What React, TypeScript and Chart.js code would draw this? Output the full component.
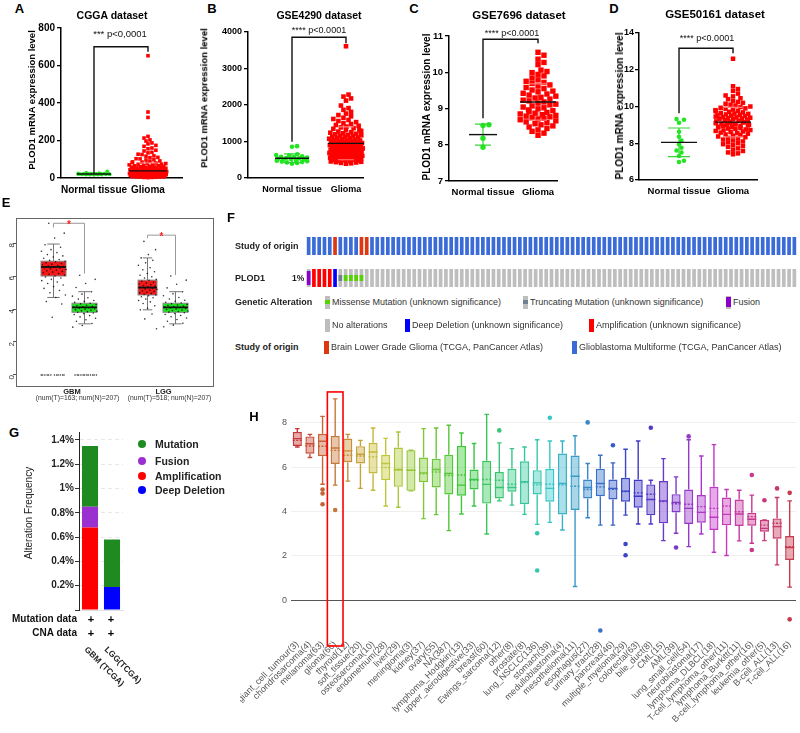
import React, { useEffect, useRef } from 'react';
import { Chart, registerables } from 'chart.js';

Chart.register(...registerables);

const FONT = '"Liberation Sans", Arial, Helvetica, sans-serif';
const GREEN = '#22e622';
const RED = '#ff0000';

// ================= Panels A–D : scatter dot plots =================
const groupNames = ['Normal tissue', 'Glioma'];

const cggaTicks = [0, 200, 400, 600, 800];
const cggaNormal = [17, 19, 22, 20, 24, 18, 21, 23, 26, 19, 20, 16, 22, 25, 21, 18, 23, 20, 36, 29, 19, 22, 17, 24, 21];
const cggaGlioma = [652, 352, 323, 222, 213, 203, 197, 187, 182, 174, 169, 160, 156, 148, 144, 137, 134, 127, 125, 118, 116, 110, 109, 103, 102, 97, 96, 91, 90, 86, 85, 82, 80, 78, 77, 74, 73, 71, 70, 67, 66, 65, 63, 62, 61, 59, 58, 57, 56, 54, 54, 52, 51, 50, 49, 47, 47, 45, 45, 44, 43, 41, 41, 40, 39, 38, 37, 37, 36, 35, 34, 34, 33, 32, 31, 31, 30, 29, 29, 28, 27, 27, 26, 25, 25, 24, 24, 23, 22, 22, 21, 21, 20, 19, 19, 18, 18, 17, 17, 16, 15, 15, 14, 14, 13, 12, 12, 11, 11, 10, 9, 9, 8, 8, 7, 6, 6, 5, 5, 4, 3, 3, 2, 30, 26, 22, 18, 35, 42, 15, 12, 28, 33, 20, 9, 24];
const cggaMean = [21, 38];
const cggaSD = [4, 42];
const cggaBracket = [700, 25, 674];

const gse4290Ticks = [0, 1000, 2000, 3000, 4000];
const gse4290Normal = [872, 858, 651, 632, 618, 596, 583, 571, 560, 549, 538, 526, 517, 505, 494, 482, 471, 462, 450, 441, 428, 411, 389];
const gse4290Glioma = [3610, 2285, 2230, 2180, 2120, 1985, 1915, 1868, 1812, 1764, 1725, 1690, 1652, 1618, 1590, 1562, 1531, 1504, 1478, 1452, 1431, 1409, 1388, 1366, 1347, 1325, 1308, 1290, 1272, 1255, 1240, 1226, 1211, 1197, 1183, 1170, 1158, 1146, 1133, 1121, 1110, 1098, 1087, 1076, 1066, 1055, 1046, 1036, 1027, 1018, 1009, 1000, 991, 983, 975, 967, 959, 951, 943, 935, 928, 920, 913, 905, 898, 891, 884, 877, 870, 863, 856, 849, 843, 836, 829, 823, 816, 810, 804, 797, 791, 785, 779, 773, 767, 761, 755, 749, 743, 737, 731, 726, 720, 714, 708, 702, 697, 691, 685, 679, 674, 668, 662, 657, 651, 645, 639, 633, 627, 621, 615, 609, 602, 596, 590, 583, 576, 570, 563, 556, 549, 542, 535, 527, 520, 512, 504, 496, 488, 480, 471, 462, 453, 444, 434, 424, 413, 402, 391];
const gse4290Mean = [540, 950];
const gse4290SD = [120, 450];
const gse4290Bracket = [3855, 995, 3690];

const gse7696Ticks = [7, 8, 9, 10, 11];
const gse7696Normal = [8.55, 8.53, 8.18, 7.93];
const gse7696Glioma = [10.55, 10.47, 10.36, 10.27, 10.21, 10.06, 10.02, 9.99, 9.94, 9.9, 9.84, 9.79, 9.75, 9.72, 9.69, 9.65, 9.62, 9.58, 9.55, 9.51, 9.48, 9.46, 9.42, 9.4, 9.37, 9.34, 9.31, 9.29, 9.26, 9.23, 9.21, 9.18, 9.15, 9.12, 9.1, 9.07, 9.04, 9.02, 8.99, 8.96, 8.94, 8.91, 8.89, 8.87, 8.85, 8.83, 8.81, 8.79, 8.77, 8.75, 8.73, 8.71, 8.69, 8.66, 8.63, 8.61, 8.58, 8.55, 8.52, 8.49, 8.45, 8.41, 8.37, 8.32, 8.26];
const gse7696Mean = [8.28, 9.18];
const gse7696SD = [0.29, 0.5];
const gse7696Bracket = [10.91, 8.73, 10.8];

const gse50161Ticks = [6, 8, 10, 12, 14];
const gse50161Normal = [9.32, 9.28, 9.12, 8.62, 8.35, 8.15, 7.95, 7.75, 7.6, 7.5, 7.3, 7.05, 6.98];
const gse50161Glioma = [12.6, 11.1, 10.95, 10.85, 10.7, 10.6, 10.55, 10.45, 10.4, 10.3, 10.25, 10.2, 10.15, 10.1, 10.05, 10.0, 9.97, 9.93, 9.9, 9.87, 9.84, 9.8, 9.77, 9.74, 9.71, 9.68, 9.65, 9.62, 9.6, 9.57, 9.55, 9.52, 9.5, 9.48, 9.45, 9.43, 9.41, 9.39, 9.37, 9.35, 9.33, 9.31, 9.29, 9.27, 9.25, 9.23, 9.21, 9.19, 9.17, 9.15, 9.13, 9.11, 9.09, 9.07, 9.05, 9.03, 9.01, 8.99, 8.97, 8.95, 8.93, 8.9, 8.88, 8.86, 8.83, 8.8, 8.78, 8.75, 8.72, 8.7, 8.67, 8.64, 8.61, 8.58, 8.55, 8.52, 8.48, 8.45, 8.41, 8.37, 8.33, 8.29, 8.25, 8.2, 8.15, 8.1, 8.05, 8.0, 7.95, 7.9, 7.85, 7.8, 7.72, 7.65, 7.58, 7.5, 7.45, 7.4];
const gse50161Mean = [8.05, 9.15];
const gse50161SD = [0.78, 0.8];
const gse50161Bracket = [13.17, 9.63, 12.9];

// ================= Panel E : GEPIA box plots =================
const gepiaGbmTumor = [9.2, 8.6, 8.3, 7.9, 7.75, 7.6, 7.5, 7.42, 7.3, 7.22, 7.15, 7.08, 7.0, 6.95, 6.9, 6.86, 6.8, 6.76, 6.72, 6.68, 6.64, 6.6, 6.57, 6.54, 6.5, 6.47, 6.44, 6.4, 6.36, 6.32, 6.28, 6.24, 6.2, 6.15, 6.1, 6.05, 6.0, 5.94, 5.88, 5.8, 5.72, 5.64, 5.55, 5.46, 5.36, 5.25, 5.12, 4.98, 4.85, 4.7, 4.45, 4.3, 3.5, 0, 0, 0, 0, 0, 0, 0, 0, 0, 0, 0, 0];
const gepiaGbmNormal = [6.05, 5.8, 5.55, 5.3, 5.05, 4.9, 4.78, 4.68, 4.6, 4.52, 4.46, 4.4, 4.35, 4.31, 4.27, 4.23, 4.2, 4.17, 4.14, 4.11, 4.08, 4.05, 4.02, 3.99, 3.96, 3.93, 3.9, 3.87, 3.84, 3.8, 3.76, 3.72, 3.66, 3.6, 3.52, 3.44, 3.35, 3.25, 3.12, 3.0, 2.9, 0, 0, 0, 0, 0, 0, 0, 0, 0, 0, 0, 0];
const gepiaLggTumor = [8.1, 7.6, 7.3, 7.1, 6.95, 6.8, 6.65, 6.5, 6.38, 6.26, 6.15, 6.05, 5.96, 5.88, 5.8, 5.74, 5.68, 5.62, 5.57, 5.52, 5.47, 5.42, 5.38, 5.34, 5.3, 5.26, 5.22, 5.18, 5.14, 5.1, 5.06, 5.02, 4.98, 4.94, 4.9, 4.85, 4.8, 4.74, 4.68, 4.6, 4.52, 4.43, 4.33, 4.2, 4.05, 3.95, 3.7, 3.4, 2.8];
const gepiaLggNormal = [6.0, 5.75, 5.5, 5.28, 5.05, 4.92, 4.8, 4.7, 4.61, 4.53, 4.47, 4.41, 4.36, 4.32, 4.28, 4.24, 4.21, 4.18, 4.15, 4.12, 4.09, 4.06, 4.03, 4.0, 3.97, 3.94, 3.91, 3.88, 3.85, 3.81, 3.77, 3.73, 3.67, 3.61, 3.53, 3.45, 3.36, 3.26, 3.14, 3.02, 2.92];
const gepiaLow = [4.7, 3.1, 3.95, 3.1];
const gepiaQ1 = [6.0, 3.8, 4.85, 3.8];
const gepiaMedian = [6.55, 4.1, 5.3, 4.1];
const gepiaQ3 = [6.9, 4.35, 5.75, 4.35];
const gepiaHigh = [7.94, 5.05, 7.1, 5.05];
const gepiaTicks = [0, 2, 4, 6, 8];
const gepiaBracketTop = [9.2, 8.48];
const gepiaBracketLeftEnd = [8.95, 8.3];
const gepiaBracketRightEnd = [6.15, 6.06];

// ================= Panel F : oncoprint =================
const studyOfOrigin = 'GGGGGLGGGGLLGGGGGGGGGGGGGGGGGGGGGGGGGGGGGGGGGGGGGGGGGGGGGGGGGGGGGGGGGGGGGGGGGGGGGGGGGGGGGGGGG';
const plod1Alterations = 'FAAAADTMMMM';

// ================= Panel G : alteration frequency =================
const gCategories = ['GBM (TCGA)', 'LGG(TCGA)'];
const gDeepDeletion = [0, 0.19];
const gAmplification = [0.68, 0];
const gFusion = [0.17, 0];
const gMutation = [0.5, 0.39];
const gTicks = [0, 0.2, 0.4, 0.6, 0.8, 1.0, 1.2, 1.4];

// ================= Panel H : cell-line box plots =================
const hLabels = ['giant_cell_tumour(3)', 'chondrosarcoma(4)', 'melanoma(63)', 'glioma(66)', 'thyroid(12)', 'soft_tissue(20)', 'osteosarcoma(10)', 'endometrium(28)', 'liver(29)', 'meningioma(3)', 'kidney(37)', 'ovary(55)', 'NA(387)', 'lymphoma_Hodgkin(13)', 'upper_aerodigestive(33)', 'breast(60)', 'Ewings_sarcoma(12)', 'other(8)', 'prostate(8)', 'lung_NSCLC(136)', 'stomach(39)', 'medulloblastoma(4)', 'mesothelioma(11)', 'esophagus(27)', 'urinary_tract(28)', 'pancreas(46)', 'multiple_myeloma(29)', 'colorectal(63)', 'bile_duct(8)', 'CML(15)', 'AML(39)', 'lung_small_cell(54)', 'neuroblastoma(17)', 'lymphoma_DLBCL(18)', 'T-cell_lymphoma_other(11)', 'lymphoma_Burkitt(11)', 'B-cell_lymphoma_other(16)', 'leukemia_other(5)', 'B-cell_ALL(13)', 'T-cell_ALL(16)'];
const hLow = [6.9, 6.43, 5.23, 5.19, 5.37, 5.04, 4.96, 4.25, 4.19, 4.93, 3.68, 3.86, 3.14, 3.89, 4.25, 2.99, 4.48, 4.29, 3.87, 3.42, 3.51, 3.17, 0.63, 3.72, 3.39, 3.39, 3.84, 3.44, 3.44, 2.69, 3.02, 2.42, 2.99, 2.17, 2.02, 2.68, 2.57, 2.69, 1.6, 0.6];
const hQ1 = [6.95, 6.6, 6.49, 6.14, 6.22, 6.16, 5.71, 5.41, 5.11, 4.93, 5.32, 5.08, 4.77, 4.71, 4.99, 4.36, 4.59, 4.89, 4.33, 4.77, 4.44, 3.87, 4.07, 4.59, 4.69, 4.54, 4.44, 4.17, 3.83, 3.47, 3.96, 3.44, 3.5, 3.17, 3.38, 3.35, 3.36, 3.09, 2.78, 1.82];
const hMedian = [7.28, 7.05, 7.16, 6.86, 6.73, 6.58, 6.68, 6.16, 5.89, 5.86, 5.74, 5.89, 5.71, 5.19, 5.44, 5.22, 5.08, 5.08, 5.34, 5.29, 5.04, 5.26, 5.59, 5.08, 5.26, 5.04, 4.92, 4.69, 4.54, 4.48, 4.41, 4.14, 3.96, 3.74, 3.87, 3.89, 3.65, 3.24, 3.32, 2.38];
const hQ3 = [7.58, 7.38, 7.5, 7.4, 7.28, 6.94, 7.09, 6.55, 6.88, 6.76, 6.43, 6.38, 6.56, 6.95, 5.89, 6.28, 5.78, 5.93, 6.26, 5.86, 5.92, 6.61, 6.52, 5.44, 5.93, 5.44, 5.52, 5.44, 5.22, 5.37, 4.78, 4.99, 4.74, 5.11, 4.63, 4.54, 3.95, 3.62, 3.69, 2.9];
const hHigh = [7.73, 7.47, 8.28, 9.07, 7.47, 7.2, 7.76, 7.29, 7.58, 6.76, 7.73, 7.76, 7.88, 7.53, 7.06, 8.37, 7.09, 6.83, 6.9, 7.23, 7.17, 7.17, 7.41, 6.16, 6.53, 6.19, 6.8, 7.17, 5.41, 6.38, 5.56, 7.23, 6.5, 7.01, 4.99, 4.96, 4.74, 3.62, 4.63, 4.48];
const hMean = [7.2, 6.95, 6.94, 6.75, 6.53, 6.5, 6.46, 5.98, 5.85, 5.85, 5.7, 5.78, 5.62, 5.64, 5.42, 5.44, 5.41, 5.23, 5.3, 5.2, 5.23, 5.2, 5.14, 4.99, 5.11, 5.0, 4.9, 4.84, 4.78, 4.45, 4.35, 4.33, 4.22, 4.14, 4.25, 3.99, 3.77, 3.39, 3.47, 2.42];
const hOutliers = [[], [], [4.99, 4.81, 4.33], [4.07], [], [], [], [], [], [], [], [], [], [], [], [], [7.65], [], [], [3.02, 1.35], [8.22], [], [], [8.01], [-1.35], [6.98], [2.54, 2.03], [], [7.77], [], [2.38], [7.38], [], [], [], [], [5.64, 2.27], [4.51], [5.04], [4.84, -0.85]];
const hTicks = [0, 2, 4, 6, 8];
const hHighlight = { label: 'glioma(66)', top: 9.38, bottom: -2.05 };

// ================= helpers =================
function swarmOffsets(values: number[], pxPerUnit: number, diam: number, maxHalf: number): number[] {
  const order = values.map((_, i) => i).sort((a, b) => values[a] - values[b]);
  const placed: { x: number; y: number }[] = [];
  const out = new Array(values.length).fill(0);
  const step = diam * 0.55;
  let fb = 0;
  for (const i of order) {
    const y = values[i] * pxPerUnit;
    const near = placed.filter((p) => Math.abs(p.y - y) < diam);
    let chosen: number | null = null;
    for (let k = 0; k * step <= maxHalf && chosen === null; k++) {
      const cands = k === 0 ? [0] : [k * step, -k * step];
      for (const c of cands) {
        if (near.every((p) => Math.hypot(p.x - c, p.y - y) >= diam * 0.95)) { chosen = c; break; }
      }
    }
    if (chosen === null) {
      fb += 1;
      chosen = (((fb * 0.6180339) % 1) * 2 - 1) * maxHalf;
    }
    placed.push({ x: chosen, y });
    out[i] = chosen;
  }
  return out;
}

function ChartBox({ left, top, width, height, make }: any) {
  const ref = useRef<HTMLCanvasElement>(null);
  useEffect(() => {
    const chart = new Chart(ref.current as HTMLCanvasElement, make());
    return () => chart.destroy();
  }, []);
  return (
    <div style={{ position: 'absolute', left, top, width, height }}>
      <canvas ref={ref} width={width} height={height} style={{ width, height, display: 'block' }} />
    </div>
  );
}

function T({ x, y, a = 'l', s = 10, b = false, c = '#000', r = 0, children }: any) {
  const tx = a === 'l' ? '0' : a === 'c' ? '-50%' : '-100%';
  return (
    <div style={{ position: 'absolute', left: x, top: y, transform: `translate(${tx},-50%)${r ? ` rotate(${r}deg)` : ''}`, font: `${b ? 'bold ' : ''}${s}px ${FONT}`, color: c, whiteSpace: 'nowrap', lineHeight: 1 }}>
      {children}
    </div>
  );
}

const baseOpts = { animation: false, responsive: false, events: [], plugins: { legend: { display: false }, tooltip: { enabled: false }, title: { display: false } } };

// ---------- dot panels ----------
const dotPanels = [
  { key: 'A', cv: { left: 0, top: 20, width: 195, height: 180 }, area: { l: 61, r: 182, t: 28, b: 178 }, xMin: 0.389, xMax: 2.63, ticks: cggaTicks, normal: cggaNormal, glioma: cggaGlioma, mean: cggaMean, sd: cggaSD, bracket: cggaBracket, diam: 3.6, maxHalf: [17, 19], meanHalf: [17, 19], sdHalf: [8, 9], tickFont: 10, labelFont: 10, tickPad: 2 },
  { key: 'B', cv: { left: 200, top: 20, width: 180, height: 180 }, area: { l: 248, r: 363, t: 32, b: 178 }, xMin: 0.185, xMax: 2.315, ticks: gse4290Ticks, normal: gse4290Normal, glioma: gse4290Glioma, mean: gse4290Mean, sd: gse4290SD, bracket: gse4290Bracket, diam: 4.6, maxHalf: [17, 17], meanHalf: [17, 18], sdHalf: [8, 8], tickFont: 9, labelFont: 9, tickPad: 2 },
  { key: 'C', cv: { left: 400, top: 20, width: 180, height: 185 }, area: { l: 449, r: 557, t: 36, b: 181 }, xMin: 0.382, xMax: 2.345, ticks: gse7696Ticks, normal: gse7696Normal, glioma: gse7696Glioma, mean: gse7696Mean, sd: gse7696SD, bracket: gse7696Bracket, diam: 5.4, maxHalf: [12, 18], meanHalf: [14, 18], sdHalf: [8, 9], tickFont: 9.5, labelFont: 9.5, tickPad: 2 },
  { key: 'D', cv: { left: 600, top: 20, width: 180, height: 185 }, area: { l: 639, r: 757, t: 33, b: 180 }, xMin: 0.259, xMax: 2.444, ticks: gse50161Ticks, normal: gse50161Normal, glioma: gse50161Glioma, mean: gse50161Mean, sd: gse50161SD, bracket: gse50161Bracket, diam: 4.5, maxHalf: [12, 18], meanHalf: [18, 18], sdHalf: [11, 9], tickFont: 9, labelFont: 9.5, tickPad: 1 },
];

function dotConfig(p: any) {
  const yW = 30, xH = 18;
  const yMin = p.ticks[0], yMax = p.ticks[p.ticks.length - 1];
  const pxPerY = (p.area.b - p.area.t) / (yMax - yMin);
  const xPerPx = (p.xMax - p.xMin) / (p.area.r - p.area.l);
  const pts = (vals: number[], g: number) => {
    const offs = swarmOffsets(vals, pxPerY, p.diam, p.maxHalf[g]);
    return vals.map((v, i) => ({ x: g + 1 + offs[i] * xPerPx, y: v }));
  };
  const extras = {
    id: 'dotExtras' + p.key,
    beforeDatasetsDraw(chart: any) {
      const { ctx, scales: { x, y } } = chart;
      ctx.save();
      [0, 1].forEach((g) => {
        const cx = x.getPixelForValue(g + 1);
        const t = y.getPixelForValue(p.mean[g] + p.sd[g]);
        const b = y.getPixelForValue(Math.max(yMin, p.mean[g] - p.sd[g]));
        ctx.strokeStyle = g === 0 ? 'rgba(40,210,40,0.95)' : 'rgba(255,110,110,0.95)';
        ctx.lineWidth = 1.2;
        ctx.beginPath();
        ctx.moveTo(cx, t); ctx.lineTo(cx, b);
        ctx.stroke();
      });
      ctx.restore();
    },
    afterDatasetsDraw(chart: any) {
      const { ctx, scales: { x, y } } = chart;
      ctx.save();
      [0, 1].forEach((g) => {
        const cx = x.getPixelForValue(g + 1);
        const t = y.getPixelForValue(p.mean[g] + p.sd[g]);
        const b = y.getPixelForValue(Math.max(yMin, p.mean[g] - p.sd[g]));
        ctx.strokeStyle = g === 0 ? 'rgba(40,210,40,0.95)' : 'rgba(255,130,130,0.95)';
        ctx.lineWidth = 1.2;
        ctx.beginPath();
        ctx.moveTo(cx - p.sdHalf[g], t); ctx.lineTo(cx + p.sdHalf[g], t);
        if (p.mean[g] - p.sd[g] > yMin) { ctx.moveTo(cx - p.sdHalf[g], b); ctx.lineTo(cx + p.sdHalf[g], b); }
        ctx.stroke();
        const m = y.getPixelForValue(p.mean[g]);
        ctx.strokeStyle = '#111';
        ctx.lineWidth = 1.4;
        ctx.beginPath();
        ctx.moveTo(cx - p.meanHalf[g], m); ctx.lineTo(cx + p.meanHalf[g], m);
        ctx.stroke();
      });
      const x1 = x.getPixelForValue(1), x2 = x.getPixelForValue(2);
      const [top, le, re] = p.bracket;
      ctx.strokeStyle = '#111';
      ctx.lineWidth = 1.4;
      ctx.beginPath();
      ctx.moveTo(x1, y.getPixelForValue(le));
      ctx.lineTo(x1, y.getPixelForValue(top));
      ctx.lineTo(x2, y.getPixelForValue(top));
      ctx.lineTo(x2, y.getPixelForValue(re));
      ctx.stroke();
      ctx.restore();
    },
  };
  return {
    type: 'scatter',
    data: {
      datasets: [
        { data: pts(p.normal, 0), pointStyle: 'circle', pointRadius: p.diam / 2, backgroundColor: GREEN, borderWidth: 0, clip: false },
        { data: pts(p.glioma, 1), pointStyle: 'rect', pointRadius: p.diam / 1.414, backgroundColor: RED, borderWidth: 0, clip: false },
      ],
    },
    options: {
      ...baseOpts,
      layout: { padding: { left: p.area.l - p.cv.left - yW, right: p.cv.left + p.cv.width - p.area.r, top: p.area.t - p.cv.top, bottom: p.cv.top + p.cv.height - p.area.b - xH } },
      scales: {
        x: {
          type: 'linear', min: p.xMin, max: p.xMax,
          afterBuildTicks: (s: any) => { s.ticks = [{ value: 1 }, { value: 2 }]; },
          afterFit: (s: any) => { s.height = xH; s.paddingLeft = 0; s.paddingRight = 0; },
          grid: { display: false, drawTicks: false },
          border: { display: true, color: '#000', width: 1.5 },
          ticks: { autoSkip: false, maxRotation: 0, padding: 6, color: '#000', font: { family: FONT, size: p.labelFont, weight: 'bold' }, callback: (v: number) => groupNames[Math.round(v) - 1] },
        },
        y: {
          type: 'linear', min: yMin, max: yMax,
          afterBuildTicks: (s: any) => { s.ticks = p.ticks.map((v: number) => ({ value: v })); },
          afterFit: (s: any) => { s.width = yW; s.paddingTop = 0; s.paddingBottom = 0; },
          grid: { drawOnChartArea: false, drawTicks: true, tickLength: 4, color: '#000', lineWidth: 1.3 },
          border: { display: true, color: '#000', width: 1.5 },
          ticks: { padding: p.tickPad, color: '#000', font: { family: FONT, size: p.tickFont, weight: 'bold' }, callback: (v: number) => String(v) },
        },
      },
    },
    plugins: [extras],
  };
}

// ---------- E ----------
const ePos = [1.904, 3.477, 6.675, 8.096];
const eWidth = [1.27, 1.27, 0.96, 1.27];
const eFill = ['#f01818', '#1ee01e', '#f01818', '#1ee01e'];

function gepiaConfig() {
  const groups = [gepiaGbmTumor, gepiaGbmNormal, gepiaLggTumor, gepiaLggNormal];
  const jit = (i: number) => ((i * 0.6180339 + 0.31) % 1) - 0.5;
  const plugin = {
    id: 'gepia',
    beforeDatasetsDraw(chart: any) {
      const { ctx, scales: { x, y } } = chart;
      ctx.save();
      for (let g = 0; g < 4; g++) {
        const cx = x.getPixelForValue(ePos[g]);
        const half = x.getPixelForValue(ePos[g] + eWidth[g] / 2) - cx;
        const q1 = y.getPixelForValue(gepiaQ1[g]), q3 = y.getPixelForValue(gepiaQ3[g]);
        const lo = y.getPixelForValue(gepiaLow[g]), hi = y.getPixelForValue(gepiaHigh[g]);
        ctx.strokeStyle = '#777';
        ctx.lineWidth = 1;
        ctx.beginPath();
        ctx.moveTo(cx, q3); ctx.lineTo(cx, hi);
        ctx.moveTo(cx, q1); ctx.lineTo(cx, lo);
        ctx.moveTo(cx - half * 0.5, hi); ctx.lineTo(cx + half * 0.5, hi);
        ctx.moveTo(cx - half * 0.5, lo); ctx.lineTo(cx + half * 0.5, lo);
        ctx.stroke();
        ctx.fillStyle = eFill[g];
        ctx.fillRect(cx - half, q3, half * 2, q1 - q3);
        ctx.strokeStyle = '#888';
        ctx.strokeRect(cx - half, q3, half * 2, q1 - q3);
      }
      ctx.restore();
    },
    afterDatasetsDraw(chart: any) {
      const { ctx, chartArea: a, scales: { x, y } } = chart;
      ctx.save();
      for (let g = 0; g < 4; g++) {
        const cx = x.getPixelForValue(ePos[g]);
        const half = x.getPixelForValue(ePos[g] + eWidth[g] / 2) - cx;
        const m = y.getPixelForValue(gepiaMedian[g]);
        ctx.strokeStyle = '#111';
        ctx.lineWidth = 1.8;
        ctx.beginPath(); ctx.moveTo(cx - half, m); ctx.lineTo(cx + half, m); ctx.stroke();
      }
      ctx.strokeStyle = '#666';
      ctx.lineWidth = 1;
      ctx.strokeRect(a.left + 0.5, a.top + 0.5, a.right - a.left, a.bottom - a.top);
      for (let k = 0; k < 2; k++) {
        const x1 = x.getPixelForValue(ePos[k * 2]), x2 = x.getPixelForValue(ePos[k * 2 + 1]);
        const t = y.getPixelForValue(gepiaBracketTop[k]);
        ctx.strokeStyle = '#999';
        ctx.lineWidth = 1;
        ctx.beginPath();
        ctx.moveTo(x1, y.getPixelForValue(gepiaBracketLeftEnd[k]));
        ctx.lineTo(x1, t); ctx.lineTo(x2, t);
        ctx.lineTo(x2, y.getPixelForValue(gepiaBracketRightEnd[k]));
        ctx.stroke();
        ctx.fillStyle = '#ff2020';
        ctx.font = `bold 10px ${FONT}`;
        ctx.textAlign = 'center';
        ctx.textBaseline = 'middle';
        ctx.fillText('*', (x1 + x2) / 2, t + 2);
      }
      ctx.restore();
    },
  };
  return {
    type: 'scatter',
    data: {
      datasets: groups.map((arr, g) => ({
        data: arr.map((v, i) => ({ x: ePos[g] + jit(i) * eWidth[g] * 1.0, y: v })),
        pointRadius: 0.8, backgroundColor: 'rgba(0,0,0,0.8)', borderWidth: 0, clip: false,
      })),
    },
    options: {
      ...baseOpts,
      layout: { padding: { left: 0, right: 12, top: 8, bottom: 4 } },
      scales: {
        x: { type: 'linear', min: 0, max: 10, display: false },
        y: {
          type: 'linear', min: -0.67, max: 9.52,
          afterBuildTicks: (s: any) => { s.ticks = gepiaTicks.map((v) => ({ value: v })); },
          afterFit: (s: any) => { s.width = 16; s.paddingTop = 0; s.paddingBottom = 0; },
          grid: { drawOnChartArea: false, drawTicks: true, tickLength: 3, color: '#555' },
          border: { display: false },
          ticks: { minRotation: 90, maxRotation: 90, padding: 1, color: '#333', font: { family: FONT, size: 8 } },
        },
      },
    },
    plugins: [plugin],
  };
}

// ---------- F ----------
const STUDY_COLORS: any = { G: '#3a6bd6', L: '#dc3912' };
function oncoConfig() {
  const cols = studyOfOrigin.split('').map((_, i) => String(i + 1));
  const alt = (i: number) => plod1Alterations[i] || '.';
  const common = { grouped: false, barPercentage: 0.7, categoryPercentage: 1, borderWidth: 0 };
  return {
    type: 'bar',
    data: {
      labels: cols,
      datasets: [
        { ...common, order: 2, data: cols.map(() => [32, 50]), backgroundColor: studyOfOrigin.split('').map((c) => STUDY_COLORS[c]) },
        { ...common, order: 2, data: cols.map(() => [0, 18]), backgroundColor: cols.map((_, i) => (alt(i) === 'A' ? '#ff0000' : alt(i) === 'D' ? '#0000ff' : '#bebebe')) },
        {
          ...common,
          order: 0,
          data: cols.map((_, i) => (alt(i) === 'M' || alt(i) === 'T' ? [6, 12] : alt(i) === 'F' ? [2, 16] : null)),
          backgroundColor: cols.map((_, i) => (alt(i) === 'M' ? '#53d400' : alt(i) === 'T' ? '#708090' : '#8b00c9')),
        },
      ],
    },
    options: {
      ...baseOpts,
      layout: { padding: { left: 0, right: 3, top: 2, bottom: 3 } },
      scales: { x: { display: false }, y: { display: false, min: 0, max: 50 } },
    },
  };
}

// ---------- G ----------
function freqConfig() {
  const common = { barPercentage: 0.73, categoryPercentage: 1, borderWidth: 0 };
  return {
    type: 'bar',
    data: {
      labels: gCategories,
      datasets: [
        { ...common, label: 'Deep Deletion', data: gDeepDeletion, backgroundColor: '#0000ff' },
        { ...common, label: 'Amplification', data: gAmplification, backgroundColor: '#ff0000' },
        { ...common, label: 'Fusion', data: gFusion, backgroundColor: '#9b30d0' },
        { ...common, label: 'Mutation', data: gMutation, backgroundColor: '#1f8a1f' },
      ],
    },
    options: {
      ...baseOpts,
      layout: { padding: { left: 0, right: 7, top: 7.7, bottom: 5 } },
      scales: {
        x: {
          stacked: true,
          ticks: { display: false },
          grid: { display: false, drawTicks: false },
          border: { display: true, color: '#e0e0e0' },
          afterFit: (s: any) => { s.height = 0; s.paddingLeft = 0; s.paddingRight = 0; },
        },
        y: {
          stacked: true, min: 0, max: 1.46,
          afterBuildTicks: (s: any) => { s.ticks = gTicks.map((v) => ({ value: v })); },
          afterFit: (s: any) => { s.width = 49; s.paddingTop = 0; s.paddingBottom = 0; },
          grid: { color: '#e8e8e8', tickColor: '#333', drawTicks: true, tickLength: 4 },
          border: { display: true, color: '#222', width: 1, dash: [4, 3] },
          ticks: { padding: 1, color: '#222', font: { family: FONT, size: 10, weight: 'bold' }, callback: (v: number) => (v === 0 ? '' : `${+v.toFixed(1)}%`) },
        },
      },
    },
  };
}

// ---------- H ----------
const hStroke = (i: number) => `hsl(${i * 9}, 55%, 50%)`;
const hFill = (i: number) => `hsla(${i * 9}, 60%, 58%, 0.5)`;

function cellLineConfig() {
  const outPts: any[] = [];
  const outCol: string[] = [];
  hOutliers.forEach((arr, i) => arr.forEach((v) => { outPts.push({ x: hLabels[i], y: v }); outCol.push(hStroke(i)); }));
  const plugin = {
    id: 'hboxes',
    afterDatasetsDraw(chart: any) {
      const { ctx, scales: { x, y } } = chart;
      const meta = chart.getDatasetMeta(0);
      ctx.save();
      meta.data.forEach((el: any, i: number) => {
        const cx = el.x, half = el.width / 2;
        const q1 = y.getPixelForValue(hQ1[i]), q3 = y.getPixelForValue(hQ3[i]);
        const lo = y.getPixelForValue(hLow[i]), hi = y.getPixelForValue(hHigh[i]);
        ctx.strokeStyle = hStroke(i);
        ctx.lineWidth = 1.4;
        ctx.setLineDash([]);
        ctx.beginPath();
        ctx.moveTo(cx, q3); ctx.lineTo(cx, hi);
        ctx.moveTo(cx, q1); ctx.lineTo(cx, lo);
        ctx.moveTo(cx - half / 2, hi); ctx.lineTo(cx + half / 2, hi);
        ctx.moveTo(cx - half / 2, lo); ctx.lineTo(cx + half / 2, lo);
        const md = y.getPixelForValue(hMedian[i]);
        ctx.moveTo(cx - half, md); ctx.lineTo(cx + half, md);
        ctx.stroke();
        ctx.setLineDash([2, 1.5]);
        ctx.beginPath();
        const mn = y.getPixelForValue(hMean[i]);
        ctx.moveTo(cx - half, mn); ctx.lineTo(cx + half, mn);
        ctx.stroke();
      });
      ctx.setLineDash([]);
      const gi = hLabels.indexOf(hHighlight.label);
      const el = meta.data[gi];
      const w = (x.getPixelForValue(1) - x.getPixelForValue(0)) * 0.62;
      const t = y.getPixelForValue(hHighlight.top), b = y.getPixelForValue(hHighlight.bottom);
      ctx.strokeStyle = '#ff0000';
      ctx.lineWidth = 1.6;
      ctx.strokeRect(el.x - w, t, w * 2, b - t);
      ctx.restore();
    },
  };
  return {
    type: 'bar',
    data: {
      labels: hLabels,
      datasets: [
        { type: 'bar', data: hLabels.map((_, i) => [hQ1[i], hQ3[i]]), backgroundColor: hLabels.map((_, i) => hFill(i)), borderColor: hLabels.map((_, i) => hStroke(i)), borderWidth: 1.4, borderSkipped: false, barPercentage: 0.72, categoryPercentage: 1, order: 2 },
        { type: 'line', showLine: false, data: outPts, pointRadius: 2.3, pointBackgroundColor: outCol, pointBorderWidth: 0, clip: false, order: 1 },
      ],
    },
    options: {
      ...baseOpts,
      layout: { padding: { left: 30, right: 3, top: 11.5, bottom: 0 } },
      scales: {
        x: {
          afterFit: (s: any) => { s.height = 97; s.paddingLeft = 0; s.paddingRight = 0; },
          grid: { display: false, drawTicks: false },
          border: { display: false },
          ticks: { autoSkip: false, minRotation: 45, maxRotation: 45, padding: 3, color: '#555', font: { family: FONT, size: 9 } },
        },
        y: {
          min: -1.6, max: 9.4,
          afterBuildTicks: (s: any) => { s.ticks = hTicks.map((v) => ({ value: v })); },
          afterFit: (s: any) => { s.width = 21; s.paddingTop = 0; s.paddingBottom = 0; },
          grid: { drawTicks: false, color: (c: any) => (c.tick && c.tick.value === 0 ? '#555' : '#efefef'), lineWidth: 1 },
          border: { display: false },
          ticks: { padding: 4, color: '#555', font: { family: FONT, size: 9 } },
        },
      },
    },
    plugins: [plugin],
  };
}

function Swatch({ x, y, base, inner, frac = 1 }: any) {
  return (
    <div style={{ position: 'absolute', left: x, top: y - 6.5, width: 5, height: 13, background: base }}>
      {inner ? <div style={{ position: 'absolute', left: 0, width: 5, top: (13 * (1 - frac)) / 2, height: 13 * frac, background: inner }} /> : null}
    </div>
  );
}

function Dot({ x, y, c }: any) {
  return <div style={{ position: 'absolute', left: x - 4, top: y - 4, width: 8, height: 8, borderRadius: '50%', background: c }} />;
}

export default function App() {
  return (
    <div style={{ position: 'absolute', left: 0, top: 0, width: 800, height: 733, background: '#fff', overflow: 'hidden' }}>
      {dotPanels.map((p) => (
        <ChartBox key={p.key} {...p.cv} make={() => dotConfig(p)} />
      ))}
      <ChartBox left={0} top={210} width={225} height={180} make={gepiaConfig} />
      <ChartBox left={306} top={235} width={494} height={55} make={oncoConfig} />
      <ChartBox left={30} top={425} width={100} height={190} make={freqConfig} />
      <ChartBox left={240} top={380} width={560} height={353} make={cellLineConfig} />

      {/* panel letters */}
      <T x={19.5} y={8} a="c" s={13} b>A</T>
      <T x={212} y={8} a="c" s={13} b>B</T>
      <T x={414} y={8} a="c" s={13} b>C</T>
      <T x={614} y={8} a="c" s={13} b>D</T>
      <T x={6} y={202} a="c" s={13} b>E</T>
      <T x={231} y={217} a="c" s={13} b>F</T>
      <T x={14} y={432} a="c" s={13} b>G</T>
      <T x={254} y={416} a="c" s={13} b>H</T>

      {/* A–D titles */}
      <T x={112} y={15} a="c" s={10.5} b>CGGA dataset</T>
      <T x={319} y={15} a="c" s={10.5} b>GSE4290 dataset</T>
      <T x={519} y={16} a="c" s={11.5} b>GSE7696 dataset</T>
      <T x={715} y={15} a="c" s={11.5} b>GSE50161 dataset</T>
      <T x={120} y={34} a="c" s={9.5} c="#111">*** p&lt;0,0001</T>
      <T x={319} y={30} a="c" s={9} c="#111">**** p&lt;0.0001</T>
      <T x={512} y={33} a="c" s={9} c="#111">**** p&lt;0.0001</T>
      <T x={707} y={38} a="c" s={9} c="#111">**** p&lt;0.0001</T>
      <T x={32} y={100} a="c" s={9.5} b r={-90}>PLOD1 mRNA expression level</T>
      <T x={204} y={98} a="c" s={9.5} b r={-90}>PLOD1 mRNA expression level</T>
      <T x={427} y={107} a="c" s={10} b r={-90}>PLOD1 mRNA expression level</T>
      <T x={620} y={106} a="c" s={10} b r={-90}>PLOD1 mRNA expression level</T>

      {/* E labels */}
      <T x={72} y={392} a="c" s={7.5} b c="#222">GBM</T>
      <T x={77.5} y={398} a="c" s={6.8} c="#333">(num(T)=163; num(N)=207)</T>
      <T x={163.5} y={392} a="c" s={7.5} b c="#222">LGG</T>
      <T x={169.5} y={398} a="c" s={6.8} c="#333">(num(T)=518; num(N)=207)</T>

      {/* F labels + legend */}
      <T x={235} y={246} s={9} b c="#222">Study of origin</T>
      <T x={235} y={278} s={9} b c="#222">PLOD1</T>
      <T x={292} y={278} s={8.5} b c="#222">1%</T>
      <T x={235} y={302} s={9} b c="#222">Genetic Alteration</T>
      <T x={235} y={347} s={9} b c="#222">Study of origin</T>
      <Swatch x={325} y={302} base="#bebebe" inner="#53d400" frac={0.35} />
      <T x={332} y={302} s={9} c="#333">Missense Mutation (unknown significance)</T>
      <Swatch x={523} y={302} base="#bebebe" inner="#708090" frac={0.35} />
      <T x={530} y={302} s={9} c="#333">Truncating Mutation (unknown significance)</T>
      <Swatch x={726} y={302} base="#bebebe" inner="#8b00c9" frac={0.75} />
      <T x={733} y={302} s={9} c="#333">Fusion</T>
      <Swatch x={325} y={325} base="#bebebe" />
      <T x={332} y={325} s={9} c="#333">No alterations</T>
      <Swatch x={405} y={325} base="#0000ff" />
      <T x={412} y={325} s={9} c="#333">Deep Deletion (unknown significance)</T>
      <Swatch x={589} y={325} base="#ff0000" />
      <T x={596} y={325} s={9} c="#333">Amplification (unknown significance)</T>
      <Swatch x={324} y={347} base="#dc3912" />
      <T x={331} y={347} s={9} c="#333">Brain Lower Grade Glioma (TCGA, PanCancer Atlas)</T>
      <Swatch x={572} y={347} base="#3a6bd6" />
      <T x={579} y={347} s={9} c="#333">Glioblastoma Multiforme (TCGA, PanCancer Atlas)</T>

      {/* G labels */}
      <T x={29} y={513} a="c" s={10} c="#222" r={-90}>Alteration Frequency</T>
      <Dot x={142} y={444} c="#1f8a1f" />
      <T x={155} y={444} s={10.5} b c="#222">Mutation</T>
      <Dot x={142} y={461} c="#9b30d0" />
      <T x={155} y={461} s={10.5} b c="#222">Fusion</T>
      <Dot x={142} y={476} c="#ff0000" />
      <T x={155} y={476} s={10.5} b c="#222">Amplification</T>
      <Dot x={142} y={490} c="#0000ff" />
      <T x={155} y={490} s={10.5} b c="#222">Deep Deletion</T>
      <T x={77} y={619} a="r" s={10} b c="#111">Mutation data</T>
      <T x={77} y={633} a="r" s={10} b c="#111">CNA data</T>
      <T x={91} y={619} a="c" s={11} b>+</T>
      <T x={111} y={619} a="c" s={11} b>+</T>
      <T x={91} y={633} a="c" s={11} b>+</T>
      <T x={111} y={633} a="c" s={11} b>+</T>
      {gCategories.map((c, i) => (
        <div key={c} style={{ position: 'absolute', left: 86 + i * 20, top: 648, transform: 'translateY(-50%) rotate(45deg)', transformOrigin: '0 50%', font: `bold 8.5px ${FONT}`, color: '#222', whiteSpace: 'nowrap', lineHeight: 1 }}>{c}</div>
      ))}
    </div>
  );
}
